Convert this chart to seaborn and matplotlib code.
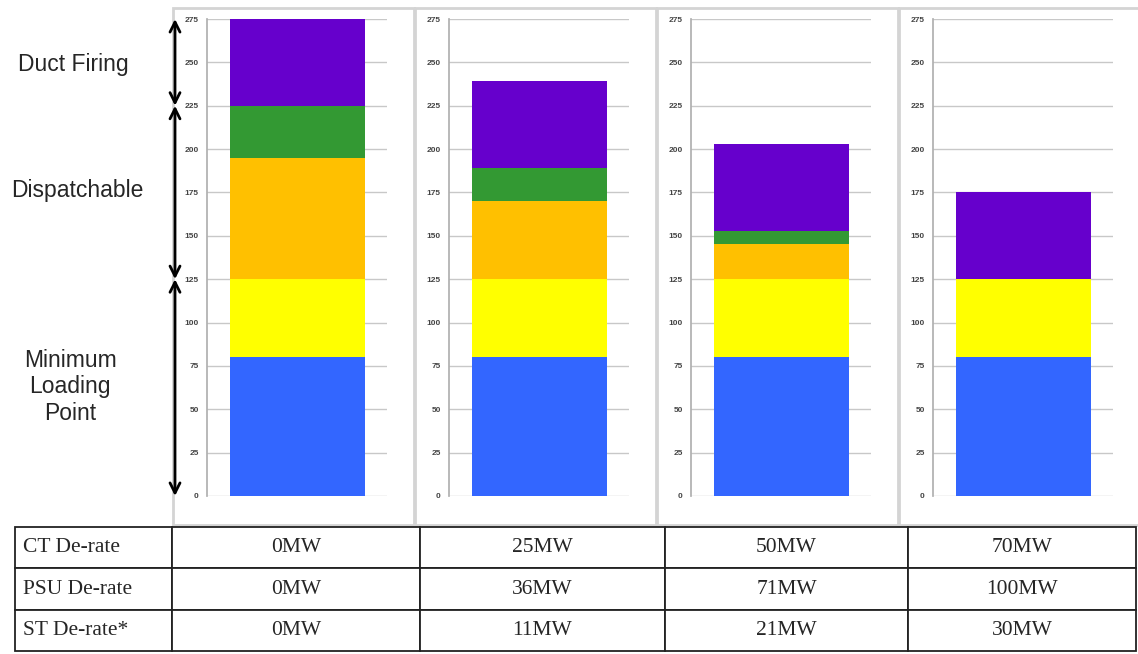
import numpy as np
import pandas as pd
import seaborn as sns
import matplotlib.pyplot as plt
from matplotlib.patches import Rectangle

# stacked capacity blocks (MW) for each de-rate case
ct_derate = ["0MW", "25MW", "50MW", "70MW"]
psu_derate = ["0MW", "36MW", "71MW", "100MW"]
st_derate = ["0MW", "11MW", "21MW", "30MW"]
row_labels = ["CT De-rate", "PSU De-rate", "ST De-rate*"]

blue = [80, 80, 80, 80]
yellow = [45, 45, 45, 45]
orange = [70, 45, 20, 0]
green = [30, 19, 8, 0]
purple = [50, 50, 50, 50]
seg_colors = ["#3366FF", "#FFFF00", "#FFC000", "#339933", "#6600CC"]

yticks = list(range(0, 276, 25))
zone_labels = ["Duct Firing", "Dispatchable", "Minimum\nLoading\nPoint"]
zone_bounds = [275, 225, 125, 0]

W, H = 1138, 654
sns.set_theme(style="white")
plt.rcParams['font.family'] = ['Liberation Sans', 'DejaVu Sans']
fig = plt.figure(figsize=(W / 100, H / 100), dpi=100)

def fx(px):
    return px / W

def fy(py):
    return (H - py) / H

segs = np.array([blue, yellow, orange, green, purple])
cum = segs.cumsum(axis=0)

axes = []
for k in range(4):
    # grey panel frame (behind everything)
    fig.add_artist(Rectangle((fx(173 + 242 * k), fy(525)), 241 / W, 517 / H,
                             transform=fig.transFigure, fill=False,
                             edgecolor="#D4D4D4", lw=2, zorder=-1))
    ax = fig.add_axes([fx(207 + 242 * k), fy(496), 180 / W, 477 / H])
    # draw tallest cumulative first so lower segments sit on top
    for s in range(4, -1, -1):
        df = pd.DataFrame({"case": [ct_derate[k]], "mw": [cum[s, k]]})
        sns.barplot(data=df, x="case", y="mw", color=seg_colors[s],
                    saturation=1, width=0.75, ax=ax, zorder=3, linewidth=0)
    ax.set_ylim(0, 275)
    ax.set_xlim(-0.5, 0.5)
    ax.set_yticks(yticks)
    ax.set_yticklabels([str(t) for t in yticks], fontsize=6, color="#444444",
                       fontweight="bold")
    ax.set_xticks([])
    ax.set_xlabel("")
    ax.set_ylabel("")
    ax.yaxis.grid(True, color="#C8C8C8", lw=1)
    ax.set_axisbelow(True)
    ax.tick_params(axis="y", length=3, color="#B0B0B0", pad=3)
    for side in ["top", "right", "bottom"]:
        ax.spines[side].set_visible(False)
    ax.spines["left"].set_color("#B0B0B0")
    ax.patch.set_alpha(0)
    axes.append(ax)

# zone arrows and labels on the left
ax1 = axes[0]
for i in range(3):
    ax1.annotate("", xy=(fx(175), zone_bounds[i + 1]), xytext=(fx(175), zone_bounds[i]),
                 xycoords=("figure fraction", "data"), textcoords=("figure fraction", "data"),
                 arrowprops=dict(arrowstyle="<->", lw=2, color="black",
                                 shrinkA=0, shrinkB=0, mutation_scale=18),
                 annotation_clip=False, zorder=10)
fig.text(fx(73), fy(65), zone_labels[0], ha="center", va="center", fontsize=16.5)
fig.text(fx(77), fy(190), zone_labels[1], ha="center", va="center", fontsize=16.5)
fig.text(fx(70), fy(387), zone_labels[2], ha="center", va="center", fontsize=16.5,
         linespacing=1.2)

# table of de-rates
tab_ax = fig.add_axes([fx(15), fy(651), (1136 - 15) / W, 124 / H])
tab_ax.axis("off")
cells = [[lab] + list(vals) for lab, vals in zip(row_labels, [ct_derate, psu_derate, st_derate])]
widths = np.array([157, 248, 245, 243, 228], dtype=float)
widths = widths / widths.sum()
tbl = tab_ax.table(cellText=cells, colWidths=widths, cellLoc="center", bbox=[0, 0, 1, 1])
tbl.auto_set_font_size(False)
for (r, c), cell in tbl.get_celld().items():
    cell.set_linewidth(1.3)
    cell.set_edgecolor("#222222")
    txt = cell.get_text()
    txt.set_fontsize(15.5)
    txt.set_fontfamily(["Liberation Serif", "DejaVu Serif"])
    if c == 0:
        cell._loc = "left"
        cell.PAD = 0.05
        txt.set_ha("left")

fig.savefig("out.png", dpi=100)
